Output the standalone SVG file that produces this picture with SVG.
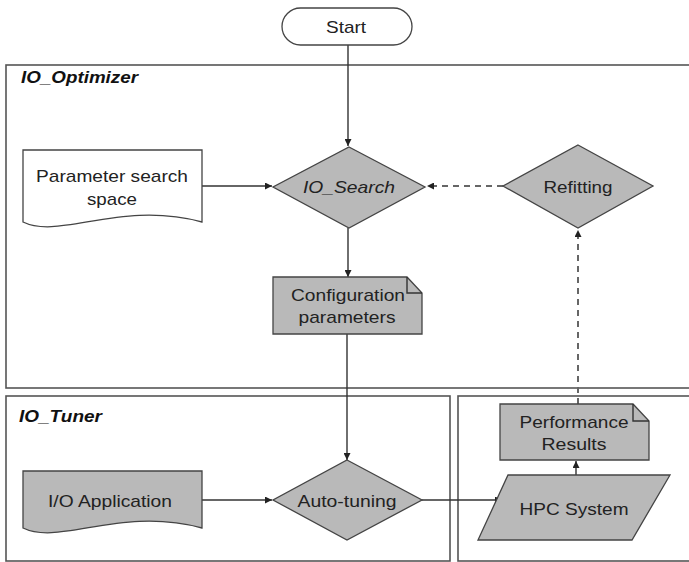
<svg xmlns="http://www.w3.org/2000/svg" width="689" height="562" viewBox="0 0 689 562">
  <defs>
    <marker id="arrow" viewBox="0 0 10 10" refX="10" refY="5" markerWidth="7" markerHeight="7" orient="auto" markerUnits="userSpaceOnUse">
      <path d="M0,0 L10,5 L0,10 z" fill="#222"/>
    </marker>
    <style>
      .panel { fill: none; stroke: #555; stroke-width: 1.6; }
      .shape { fill: #b9b9b9; stroke: #444; stroke-width: 1.3; }
      .plain { fill: #fff; stroke: #444; stroke-width: 1.3; }
      .label { font-family: "Liberation Sans", Arial, sans-serif; font-size: 17px; fill: #222; text-anchor: middle; }
      .title { font-family: "Liberation Sans", Arial, sans-serif; font-size: 17px; font-weight: bold; font-style: italic; fill: #111; }
      .edge { fill: none; stroke: #333; stroke-width: 1.4; }
      .dashed { fill: none; stroke: #666; stroke-width: 2; stroke-dasharray: 6 5; }
    </style>
  </defs>

  <rect width="689" height="562" fill="#fff"/>

  <!-- swimlane panels -->
  <g id="io-optimizer">
    <rect class="panel" x="6" y="65" width="690" height="323"/>
    <text class="title" x="21" y="83" textLength="117" lengthAdjust="spacingAndGlyphs">IO_Optimizer</text>
  </g>
  <g id="io-tuner">
    <rect class="panel" x="6" y="396" width="444" height="165"/>
    <text class="title" x="19" y="422" textLength="83" lengthAdjust="spacingAndGlyphs">IO_Tuner</text>
  </g>
  <g id="hpc-panel">
    <rect class="panel" x="458" y="396" width="240" height="165"/>
  </g>

  <!-- connectors -->
  <g id="connectors">
    <path class="edge" d="M348,45 V146" marker-end="url(#arrow)"/>
    <path class="edge" d="M202,186 H272" marker-end="url(#arrow)"/>
    <path class="dashed" d="M503,186 H427" marker-end="url(#arrow)"/>
    <path class="edge" d="M348,228 V277" marker-end="url(#arrow)"/>
    <path class="edge" d="M347,334 V460" marker-end="url(#arrow)"/>
    <path class="edge" d="M202,500 H272" marker-end="url(#arrow)"/>
    <path class="edge" d="M422,500 H502" marker-end="url(#arrow)"/>
    <path class="edge" d="M576,475 V461" marker-end="url(#arrow)"/>
    <path class="dashed" d="M578,404 V230" marker-end="url(#arrow)"/>
  </g>

  <!-- nodes -->
  <g id="start">
    <rect class="plain" x="282" y="8" width="130" height="37" rx="18.5" ry="18.5"/>
    <text class="label" x="346" y="33" textLength="40" lengthAdjust="spacingAndGlyphs">Start</text>
  </g>

  <g id="param-space">
    <path class="plain" d="M23,150 H202 V222 C120,200 60,240 23,222 Z"/>
    <text class="label" x="112" y="182" textLength="152" lengthAdjust="spacingAndGlyphs">Parameter search</text>
    <text class="label" x="112" y="205" textLength="50" lengthAdjust="spacingAndGlyphs">space</text>
  </g>

  <g id="io-search">
    <polygon class="shape" points="349,147 425,187 349,228 273,187"/>
    <text class="label" x="349" y="193" font-style="italic" textLength="92" lengthAdjust="spacingAndGlyphs">IO_Search</text>
  </g>

  <g id="refitting">
    <polygon class="shape" points="578,145 653,186 578,228 503,186"/>
    <text class="label" x="578" y="193" textLength="69" lengthAdjust="spacingAndGlyphs">Refitting</text>
  </g>

  <g id="config-params">
    <path class="shape" d="M273,277 H407 L422,293 V334 H273 Z"/>
    <path class="edge" d="M407,277 V293 H422" stroke-width="1.1"/>
    <text class="label" x="348" y="301" textLength="114" lengthAdjust="spacingAndGlyphs">Configuration</text>
    <text class="label" x="347" y="323" textLength="97" lengthAdjust="spacingAndGlyphs">parameters</text>
  </g>

  <g id="io-application">
    <path class="shape" d="M23,471 H202 V528 C120,506 60,546 23,528 Z"/>
    <text class="label" x="110" y="507" textLength="124" lengthAdjust="spacingAndGlyphs">I/O Application</text>
  </g>

  <g id="auto-tuning">
    <polygon class="shape" points="347,460 422,500 347,540 273,500"/>
    <text class="label" x="347" y="507" textLength="99" lengthAdjust="spacingAndGlyphs">Auto-tuning</text>
  </g>

  <g id="hpc-system">
    <polygon class="shape" points="508,475 670,475 632,540 478,540"/>
    <text class="label" x="574" y="515" textLength="109" lengthAdjust="spacingAndGlyphs">HPC System</text>
  </g>

  <g id="perf-results">
    <path class="shape" d="M500,404 H633 L649,421 V460 H500 Z"/>
    <path class="edge" d="M633,404 V421 H649" stroke-width="1.1"/>
    <text class="label" x="574" y="428" textLength="109" lengthAdjust="spacingAndGlyphs">Performance</text>
    <text class="label" x="574" y="450" textLength="65" lengthAdjust="spacingAndGlyphs">Results</text>
  </g>
</svg>
